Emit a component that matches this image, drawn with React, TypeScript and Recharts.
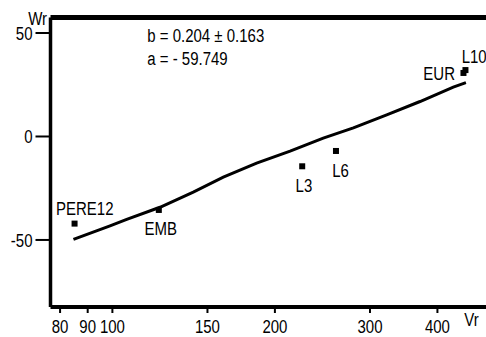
import React from "react";
import {
  ComposedChart,
  XAxis,
  YAxis,
  Line,
  Scatter,
  ReferenceLine,
  Customized,
} from "recharts";

// Sites: Vr (log axis) against Wr
const siteNames = ["PERE12", "EMB", "L3", "L6", "EUR", "L10"];
const siteVr = [85.1, 121.9, 224.7, 259.5, 447, 450.8];
const siteWr = [-42.1, -35.5, -14.4, -7.0, 30.7, 32.1];

// Fitted regression curve as drawn on the log axis
const fitVr = [84.7, 99.0, 106.3, 122.5, 141.2, 160.5, 185.0, 213.4, 245.8, 279.5, 322.2, 371.4, 428, 451.7];
const fitWr = [-49.7, -43.2, -40.1, -34.2, -26.9, -19.6, -12.9, -7.1, -0.8, 4.2, 10.4, 16.9, 23.9, 26.0];

const xTicks = [80, 90, 100, 150, 200, 300, 400];
const yTicks = [-50, 0, 50];
const xDomain: [number, number] = [76.8, 512];
const yDomain: [number, number] = [-82.4, 57.5];

const slopeText = "b = 0.204 ± 0.163";
const interceptText = "a = - 59.749";

const sites = siteNames.map((name, i) => ({ name, x: siteVr[i], y: siteWr[i] }));
const fit = fitVr.map((x, i) => ({ x, y: fitWr[i] }));

const FONT = "'Liberation Sans', Arial, sans-serif";
const STRETCH = 1.24;

// Label placement around each site marker
const labelPlacement: Record<string, { dx: number; dy: number; anchor: "start" | "middle" | "end" }> = {
  PERE12: { dx: -18.5, dy: -8.7, anchor: "start" },
  EMB: { dx: 2, dy: 25, anchor: "middle" },
  L3: { dx: 1.7, dy: 25.4, anchor: "middle" },
  L6: { dx: 4.5, dy: 25.7, anchor: "middle" },
  EUR: { dx: -8.5, dy: 7, anchor: "end" },
  L10: { dx: -3.8, dy: -6.7, anchor: "start" },
};

function TallText({
  x,
  y,
  anchor = "start",
  children,
}: {
  x: number;
  y: number;
  anchor?: "start" | "middle" | "end";
  children: React.ReactNode;
}) {
  return (
    <text
      transform={`translate(${x} ${y}) scale(1 ${STRETCH})`}
      textAnchor={anchor}
      fontSize={15}
      fontFamily={FONT}
      fill="#000"
    >
      {children}
    </text>
  );
}

const XTick = (props: any) => {
  const { x, y, payload } = props;
  return (
    <TallText x={x} y={y + 18} anchor="middle">
      {payload.value}
    </TallText>
  );
};

const YTick = (props: any) => {
  const { x, y, payload } = props;
  return (
    <TallText x={x - 1} y={y + 6.6} anchor="end">
      {payload.value}
    </TallText>
  );
};

const SiteMarker = (props: any) => {
  const { cx, cy, payload } = props;
  const p = labelPlacement[payload.name] || { dx: 0, dy: -8, anchor: "middle" };
  return (
    <g>
      <rect x={cx - 3} y={cy - 3} width={6} height={6} fill="#000" />
      <TallText x={cx + p.dx} y={cy + p.dy} anchor={p.anchor}>
        {payload.name}
      </TallText>
    </g>
  );
};

const FitStats = () => (
  <g>
    <TallText x={147.3} y={41.7}>{slopeText}</TallText>
    <TallText x={147.3} y={65}>{interceptText}</TallText>
  </g>
);

export default function App() {
  return (
    <div
      style={{
        position: "absolute",
        left: 0,
        top: 0,
        width: 486,
        height: 337,
        overflow: "hidden",
        background: "#fff",
      }}
    >
      <ComposedChart
        width={500}
        height={337}
        margin={{ top: 17.5, right: 4.7, bottom: 0, left: 0.5 }}
      >
        <XAxis
          dataKey="x"
          type="number"
          scale="log"
          domain={xDomain}
          allowDataOverflow
          ticks={xTicks}
          interval={0}
          height={30}
          tickSize={6}
          tickMargin={2}
          axisLine={{ stroke: "#000", strokeWidth: 4 }}
          tickLine={{ stroke: "#000", strokeWidth: 2 }}
          tick={XTick}
          label={(p: any) => {
            const vb = p.viewBox || {};
            return (
              <TallText x={(vb.x ?? 0) + 413.8} y={(vb.y ?? 307) + 19}>
                Vr
              </TallText>
            );
          }}
        />
        <YAxis
          dataKey="y"
          type="number"
          domain={yDomain}
          allowDataOverflow
          ticks={yTicks}
          interval={0}
          width={50}
          tickSize={15}
          tickMargin={2}
          axisLine={{ stroke: "#000", strokeWidth: 3.5 }}
          tickLine={{ stroke: "#000", strokeWidth: 2 }}
          tick={YTick}
          label={(p: any) => {
            const vb = p.viewBox || {};
            return (
              <TallText x={(vb.x ?? 0.5) + 46.5} y={(vb.y ?? 17.5) + 7.5} anchor="end">
                Wr
              </TallText>
            );
          }}
        />
        <ReferenceLine y={yDomain[1]} stroke="#000" strokeWidth={5} />
        <Line
          data={fit}
          dataKey="y"
          type="linear"
          stroke="#000"
          strokeWidth={3}
          dot={false}
          activeDot={false}
          isAnimationActive={false}
        />
        <Scatter
          data={sites}
          dataKey="y"
          fill="#000"
          shape={SiteMarker}
          isAnimationActive={false}
        />
        <Customized component={FitStats} />
      </ComposedChart>
    </div>
  );
}
